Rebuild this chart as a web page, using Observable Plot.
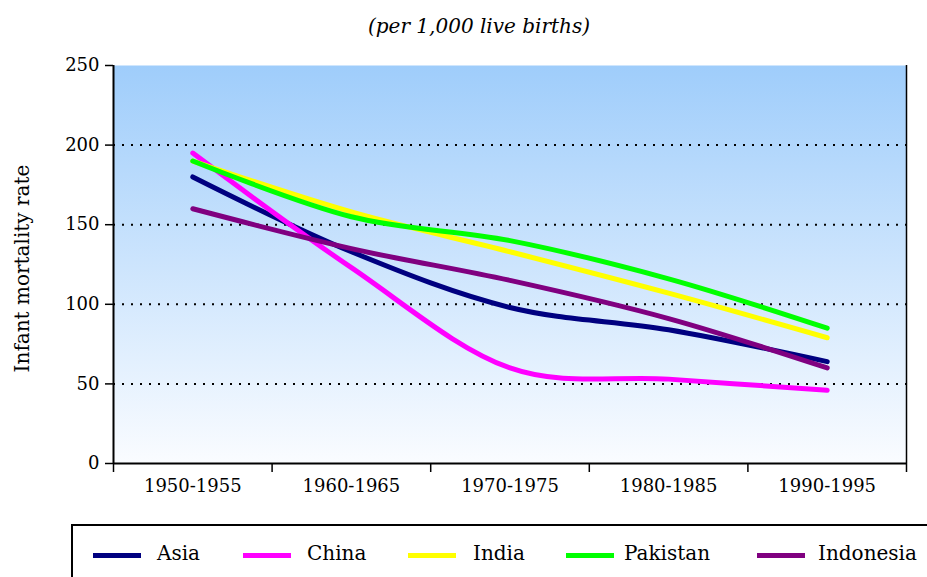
<!DOCTYPE html>
<html>
<head>
<meta charset="utf-8">
<script src="https://cdn.jsdelivr.net/npm/d3@7"></script>
<script src="https://cdn.jsdelivr.net/npm/@observablehq/plot@0.6"></script>
<style>
  body { margin: 0; background: #fff; font-family: "DejaVu Serif", serif; color: #000; }
  #wrap { position: relative; width: 927px; height: 577px; overflow: hidden; }
  #chart { position: absolute; left: 0; top: 0; }
  #title { position: absolute; left: 0; width: 958px; top: 14px; text-align: center; font-style: italic; font-size: 20px; line-height: 24px; }
  #legend { position: absolute; left: 71px; top: 524px; width: 900px; height: 80px; border: 2px solid #000; box-sizing: border-box; }
  .sw { position: absolute; height: 5px; width: 48px; top: 553px; }
  .lt { position: absolute; top: 541px; font-size: 20px; line-height: 24px; white-space: nowrap; }
</style>
</head>
<body>
<div id="wrap">
  <div id="chart"></div>
  <div id="title">(per 1,000 live births)</div>
  <div id="legend"></div>
</div>
<script>
const periods = ["1950-1955", "1960-1965", "1970-1975", "1980-1985", "1990-1995"];
const seriesNames = ["Asia", "China", "India", "Pakistan", "Indonesia"];
const asia      = [180, 133, 98, 84, 64];
const china     = [195, 123, 60, 53, 46];
const india     = [190, 158, 133, 107, 79];
const pakistan  = [190, 155, 140, 116, 85];
const indonesia = [160, 135, 115, 91, 60];
const seriesColors = ["#000080", "#FF00FF", "#FFFF00", "#00FF00", "#800080"];
const yTicks = [0, 50, 100, 150, 200, 250];
const gridValues = [50, 100, 150, 200];
const yLabel = "Infant mortality rate";

const valuesBySeries = [asia, china, india, pakistan, indonesia];
const rows = seriesNames.flatMap((s, k) => valuesBySeries[k].map((v, i) => ({series: s, i, v})));
const idx = periods.map((_, i) => i);
const bounds = [-0.5, ...idx.map(i => i + 0.5)];

const svg = Plot.plot({
  width: 927,
  height: 577,
  marginTop: 65,
  marginLeft: 113,
  marginRight: 21,
  marginBottom: 114,
  x: {type: "linear", domain: [-0.5, 4.5]},
  y: {domain: [0, 250]},
  color: {domain: seriesNames, range: seriesColors},
  style: {fontFamily: "DejaVu Serif", fontSize: "18px", color: "#000", background: "transparent", overflow: "visible"},
  marks: [
    Plot.frame({fill: "url(#bg)", stroke: "none"}),
    Plot.ruleY(gridValues, {stroke: "#000", strokeWidth: 2, strokeDasharray: "2,7"}),
    Plot.line(rows, {x: "i", y: "v", z: "series", stroke: "series", strokeWidth: 5, curve: "cardinal"}),
    Plot.ruleX([4.5], {stroke: "#000", strokeWidth: 1.5}),
    Plot.ruleX([-0.5], {stroke: "#000", strokeWidth: 2}),
    Plot.ruleY([0], {stroke: "#000", strokeWidth: 2}),
    Plot.axisY({ticks: yTicks, tickSize: 8, tickPadding: 6, label: null, fontSize: 18, strokeWidth: 1.5}),
    Plot.axisX(bounds, {tickSize: 9, tickFormat: () => "", label: null, strokeWidth: 1.5}),
    Plot.axisX(idx, {tickSize: 0, tickPadding: 16, tickFormat: i => periods[i], label: null, fontSize: 18}),
    Plot.text([yLabel], {frameAnchor: "left", textAnchor: "middle", lineAnchor: "middle", dx: -91, dy: 4, rotate: -90, fontSize: 20, fill: "#000"})
  ]
});

d3.select(svg).insert("defs", ":first-child").html(
  '<linearGradient id="bg" x1="0" y1="0" x2="0" y2="1">' +
  '<stop offset="0" stop-color="#9FCDFB"/>' +
  '<stop offset="1" stop-color="#FAFCFF"/>' +
  '</linearGradient>'
);
document.getElementById("chart").appendChild(svg);

// legend
const swatchX = [93, 243, 408, 566, 757];
const textX = [157, 307, 473, 624, 818];
const wrap = document.getElementById("wrap");
seriesNames.forEach((s, k) => {
  const sw = document.createElement("div");
  sw.className = "sw";
  sw.style.left = swatchX[k] + "px";
  sw.style.background = seriesColors[k];
  wrap.appendChild(sw);
  const t = document.createElement("div");
  t.className = "lt";
  t.style.left = textX[k] + "px";
  t.textContent = s;
  wrap.appendChild(t);
});
</script>
</body>
</html>
